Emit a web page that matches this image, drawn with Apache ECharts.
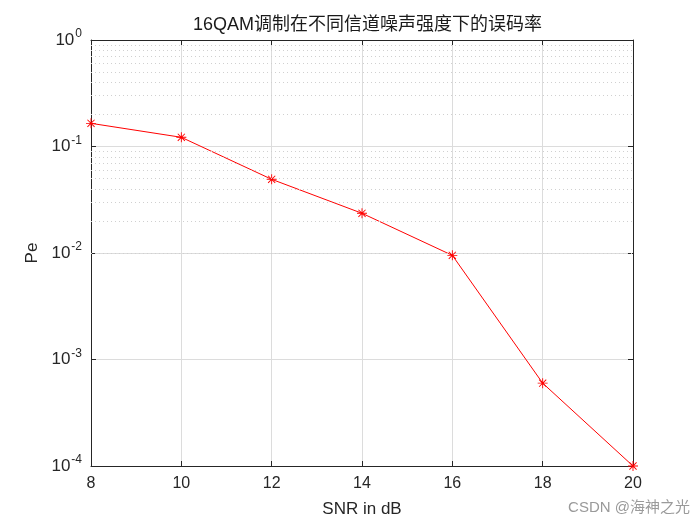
<!DOCTYPE html>
<html>
<head>
<meta charset="utf-8">
<script src="https://cdn.jsdelivr.net/npm/echarts@6/dist/echarts.min.js"></script>
<style>html,body{margin:0;padding:0;background:#fff}#c{width:700px;height:525px}</style>
</head>
<body>
<div id="c"></div>
<script>
var snr = [8, 10, 12, 14, 16, 18, 20];
var pe = [0.165, 0.122, 0.0492, 0.0236, 0.0095, 0.0006, 0.0001];
var titleText = '16QAM调制在不同信道噪声强度下的误码率';
var xName = 'SNR in dB';
var yName = 'Pe';
var decades = [-4, -3, -2, -1];
var minorMult = [2, 3, 4, 5, 6, 7, 8, 9];

var minorLines = [];
decades.forEach(function (d) {
  minorMult.forEach(function (m) { minorLines.push({ yAxis: m * Math.pow(10, d) }); });
});

var asterisk = 'path://M4.55 0L5.45 0L5.45 10L4.55 10Z M0 4.55L10 4.55L10 5.45L0 5.45Z M1.1 1.75L1.75 1.1L8.9 8.25L8.25 8.9Z M8.25 1.1L8.9 1.75L1.75 8.9L1.1 8.25Z';

var axisColor = '#262626';
var font = 'Arial, "Liberation Sans", "Noto Sans CJK SC", sans-serif';

var chart = echarts.init(document.getElementById('c'), null, { renderer: 'canvas' });
chart.setOption({
  backgroundColor: '#ffffff',
  animation: false,
  title: {
    text: titleText, left: 188, top: 11,
    textStyle: { fontFamily: font, fontSize: 18, fontWeight: 'normal', color: '#1a1a1a' }
  },
  grid: { left: 91, right: 67, top: 40, bottom: 59, containLabel: false },
  xAxis: [{
    type: 'value', min: 8, max: 20, interval: 2,
    name: xName, nameLocation: 'middle', nameGap: 35,
    nameTextStyle: { fontFamily: font, fontSize: 17, color: axisColor },
    axisLine: { show: true, onZero: false, lineStyle: { color: axisColor, width: 1 } },
    axisTick: { show: true, inside: true, length: 5, lineStyle: { color: axisColor } },
    axisLabel: { fontFamily: font, fontSize: 16, color: axisColor, margin: 10 },
    splitLine: { show: true, lineStyle: { color: '#dcdcdc', width: 1 } }
  }, {
    type: 'value', min: 8, max: 20, interval: 2, position: 'top',
    axisLine: { show: true, onZero: false, lineStyle: { color: axisColor, width: 1 } },
    axisTick: { show: true, inside: true, length: 5, lineStyle: { color: axisColor } },
    axisLabel: { show: false }, splitLine: { show: false }
  }],
  yAxis: [{
    type: 'log', logBase: 10, min: 0.0001, max: 1,
    name: yName, nameLocation: 'middle', nameGap: 47, nameRotate: 90,
    nameTextStyle: { fontFamily: font, fontSize: 17, color: axisColor },
    axisLine: { show: true, onZero: false, lineStyle: { color: axisColor, width: 1 } },
    axisTick: { show: true, inside: true, length: 5, lineStyle: { color: axisColor } },
    axisLabel: {
      fontFamily: font, fontSize: 17, color: axisColor, margin: 9,
      formatter: function (v) { return '10{s|' + Math.round(Math.log10(v)) + '}'; },
      rich: { s: { fontFamily: font, fontSize: 12, color: axisColor, verticalAlign: 'top', padding: [0, 0, 12, 1] } }
    },
    splitLine: { show: true, lineStyle: { color: '#dcdcdc', width: 1 } }
  }, {
    type: 'log', logBase: 10, min: 0.0001, max: 1, position: 'right',
    axisLine: { show: true, onZero: false, lineStyle: { color: axisColor, width: 1 } },
    axisTick: { show: true, inside: true, length: 5, lineStyle: { color: axisColor } },
    axisLabel: { show: false }, splitLine: { show: false }
  }],
  graphic: [{
    type: 'text', right: 10, bottom: 10,
    style: { text: 'CSDN @海神之光', fill: '#9a9a9a', fontFamily: font, fontSize: 15 }
  }],
  series: [{
    type: 'line', xAxisIndex: 0, yAxisIndex: 0,
    data: snr.map(function (x, i) { return [x, pe[i]]; }),
    symbol: asterisk, symbolSize: 10, showAllSymbol: true,
    lineStyle: { color: '#ff0000', width: 1 },
    itemStyle: { color: '#ff0000' },
    markLine: {
      silent: true, symbol: 'none', label: { show: false },
      lineStyle: { color: '#d0d0d0', type: [1, 3], width: 1 },
      data: minorLines
    },
    z: 3
  }]
});
</script>
</body>
</html>
